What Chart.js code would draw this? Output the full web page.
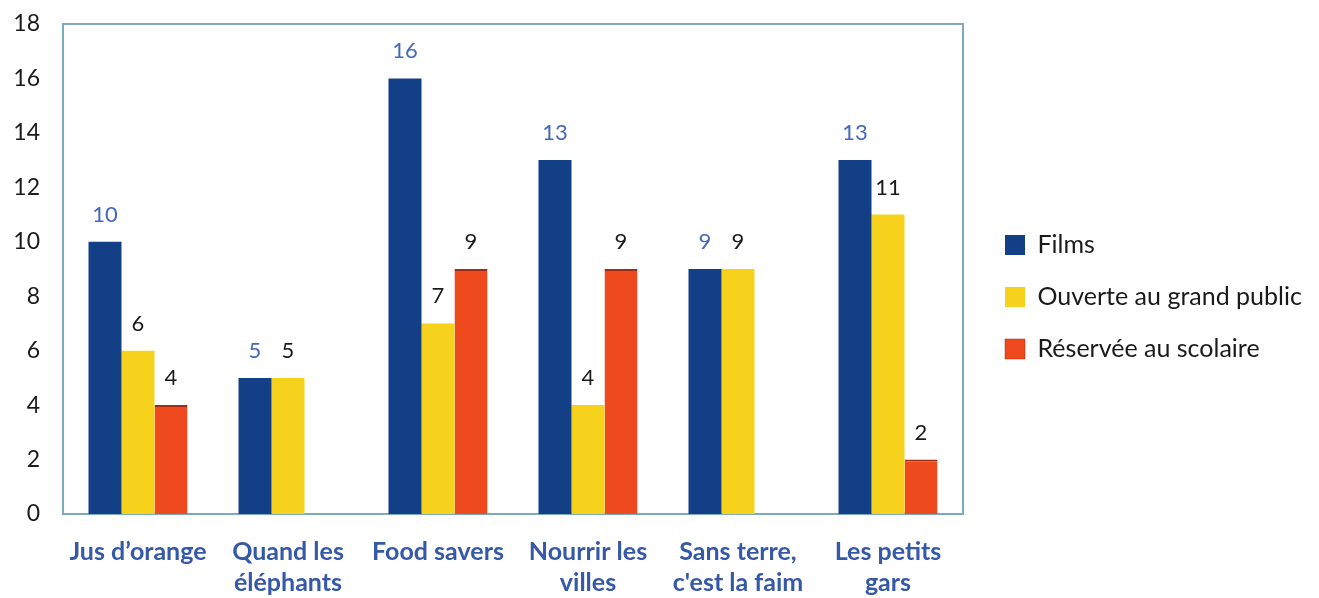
<!DOCTYPE html>
<html>
<head>
<meta charset="utf-8">
<script src="https://cdn.jsdelivr.net/npm/chart.js@4.4.0/dist/chart.umd.min.js"></script>
<style>
html, body { margin: 0; padding: 0; background: #fff; }
#wrap { width: 1319px; height: 598px; }
</style>
</head>
<body>
<div id="wrap"><canvas id="filmsChart"></canvas></div>
<script>
const categories = [
    ['Jus d\u2019orange'],
    ['Quand les', '\u00e9l\u00e9phants'],
    ['Food savers'],
    ['Nourrir les', 'villes'],
    ['Sans terre,', "c'est la faim"],
    ['Les petits', 'gars']
];
const seriesNames = ['Films', 'Ouverte au grand public', 'R\u00e9serv\u00e9e au scolaire'];
const films = [10, 5, 16, 13, 9, 13];
const grandPublic = [6, 5, 7, 4, 9, 11];
const scolaire = [4, null, 9, 9, null, 2];
const yTicks = [0, 2, 4, 6, 8, 10, 12, 14, 16, 18];

const barColors = ['#123f86', '#f6d21c', '#ee4a1e'];
const labelColors = ['#4468bd', '#1a1a1a', '#1a1a1a'];

// values above the bars
const valueLabels = {
    id: 'valueLabels',
    afterDatasetsDraw(chart) {
        const ctx = chart.ctx;
        ctx.save();
        ctx.font = '22px Lato';
        ctx.textAlign = 'center';
        ctx.textBaseline = 'alphabetic';
        chart.data.datasets.forEach((ds, i) => {
            chart.getDatasetMeta(i).data.forEach((bar, j) => {
                if (ds.data[j] === null) return;
                ctx.fillStyle = labelColors[i];
                ctx.fillText(String(ds.data[j]), bar.x, bar.y - 20);
            });
        });
        ctx.restore();
    }
};

// light frame round the plot area
const plotFrame = {
    id: 'plotFrame',
    beforeDatasetsDraw(chart) {
        const a = chart.chartArea;
        const ctx = chart.ctx;
        ctx.save();
        ctx.strokeStyle = '#7eaabb';
        ctx.lineWidth = 2;
        ctx.strokeRect(a.left, a.top, a.right - a.left, a.bottom - a.top);
        ctx.restore();
    }
};

// push the legend a bit away from the plot
const legendShift = {
    id: 'legendShift',
    afterLayout(chart) {
        const lg = chart.legend;
        lg.left += 15; lg.right += 45;
        lg.top -= 2; lg.bottom -= 2;
    }
};

const fch = document.getElementById('filmsChart').getContext('2d');
const filmsChart = new Chart(fch, {
    type: 'bar',
    data: {
        labels: categories,
        datasets: [
            { label: seriesNames[0], data: films, backgroundColor: barColors[0] },
            { label: seriesNames[1], data: grandPublic, backgroundColor: barColors[1] },
            {
                label: seriesNames[2], data: scolaire, backgroundColor: barColors[2],
                borderColor: '#9c2c12', borderWidth: { top: 2, left: 0, right: 0, bottom: 0 }
            }
        ]
    },
    options: {
        responsive: true,
        maintainAspectRatio: false,
        animation: false,
        layout: { padding: { left: 0, top: 0, right: 35, bottom: 0 } },
        datasets: {
            bar: { categoryPercentage: 0.66, barPercentage: 1.0 }
        },
        scales: {
            x: {
                afterFit(axis) { axis.height = 84; },
                grid: { display: false, drawTicks: false },
                border: { display: false },
                ticks: {
                    color: '#3558a8',
                    font: { family: 'Lato', size: 25, weight: 'bold', lineHeight: 1.25 },
                    padding: 22,
                    maxRotation: 0,
                    autoSkip: false
                }
            },
            y: {
                min: 0,
                max: 18,
                afterBuildTicks(axis) { axis.ticks = yTicks.map(v => ({ value: v })); },
                afterFit(axis) { axis.width = 63; axis.paddingTop = 24; },
                grid: { display: false, drawTicks: false },
                border: { display: false },
                ticks: {
                    color: '#1a1a1a',
                    font: { family: 'Lato', size: 23 },
                    padding: 23
                }
            }
        },
        plugins: {
            legend: {
                position: 'right',
                labels: {
                    color: '#1a1a1a',
                    font: { family: 'Lato', size: 25 },
                    boxWidth: 20,
                    boxHeight: 20,
                    padding: 27
                }
            },
            tooltip: { enabled: false }
        }
    },
    plugins: [plotFrame, valueLabels, legendShift]
});
</script>
</body>
</html>
